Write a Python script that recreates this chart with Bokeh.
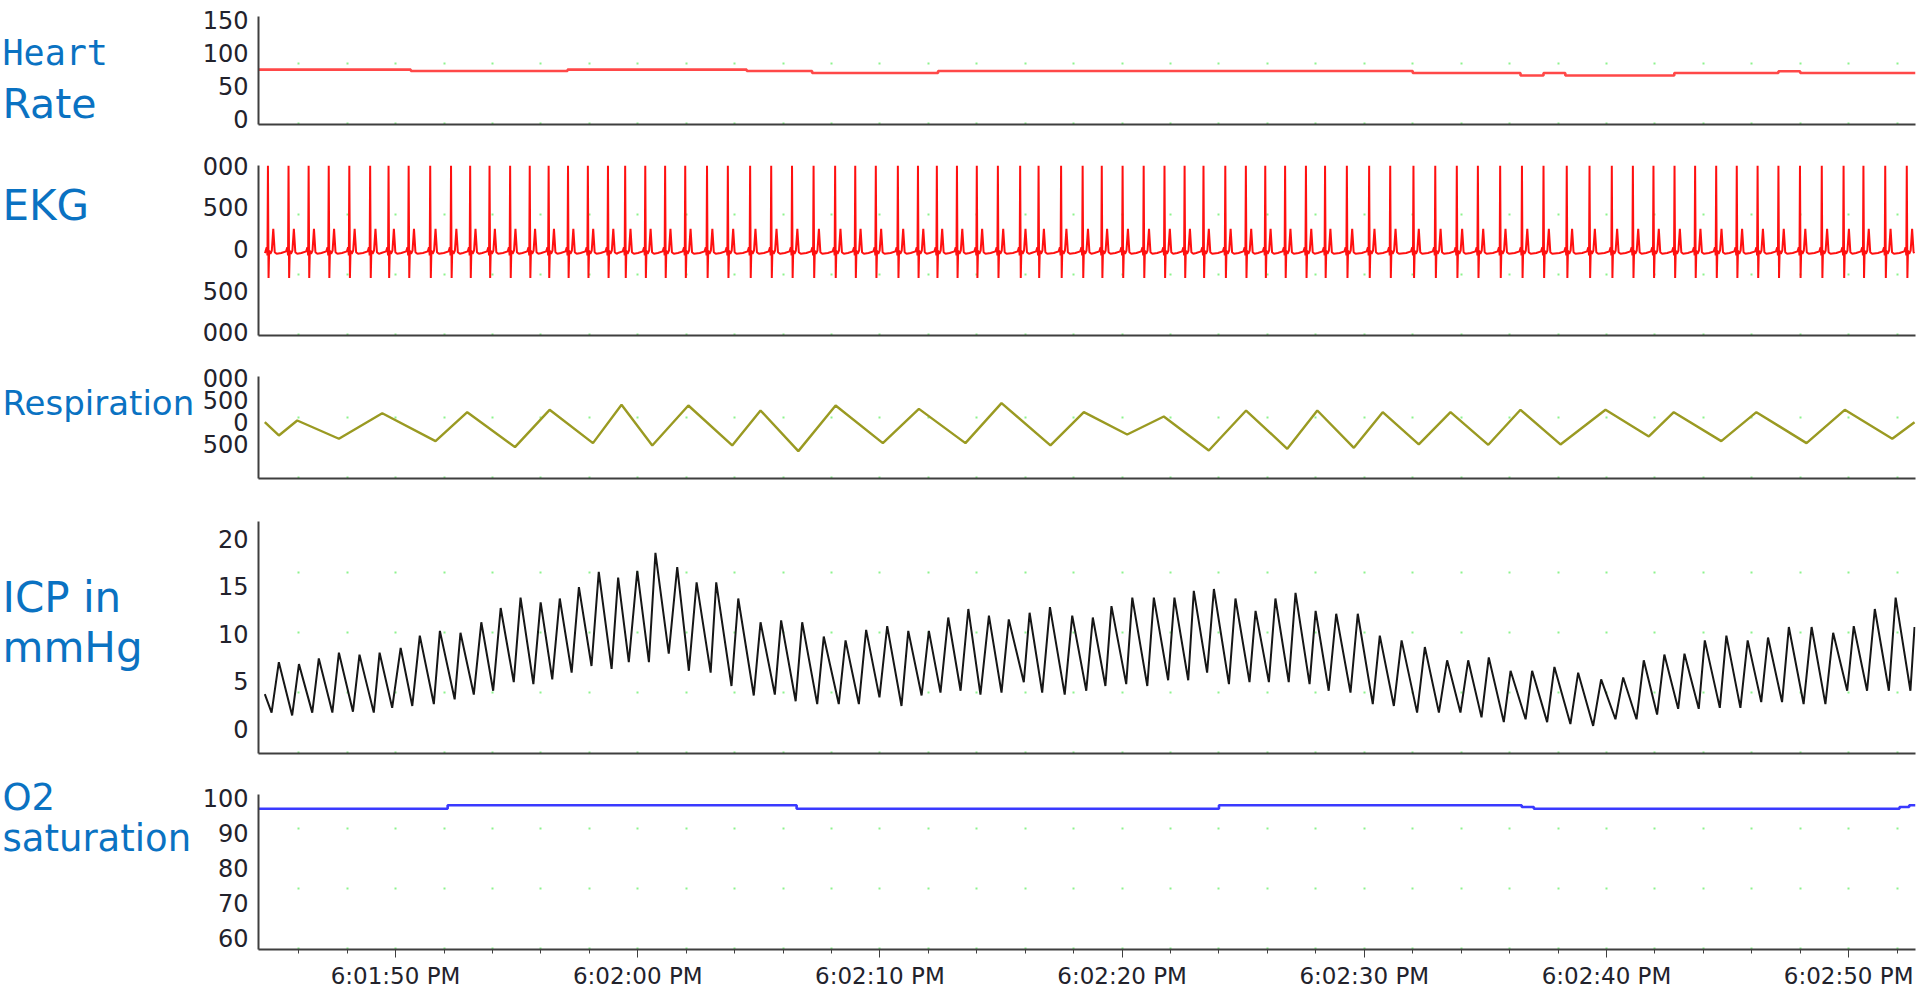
from bokeh.plotting import figure
from bokeh.layouts import column, row
from bokeh.models import FixedTicker, Range1d
from bokeh.core.properties import value
from bokeh.embed import file_html
from bokeh.resources import INLINE

# ---------------- data (time in seconds after 6:01:50 PM) ----------------
x_start, x_end = -5.66, 62.76
x_major = [0, 10, 20, 30, 40, 50, 60]
x_major_labels = ["6:01:50 PM", "6:02:00 PM", "6:02:10 PM", "6:02:20 PM",
                  "6:02:30 PM", "6:02:40 PM", "6:02:50 PM"]
x_minor = [-4, -2, 2, 4, 6, 8, 12, 14, 16, 18, 22, 24, 26, 28, 32, 34, 36, 38,
           42, 44, 46, 48, 52, 54, 56, 58, 62]

# panel titles
title_text = ["Heart", "Rate", "EKG", "Respiration", "ICP in", "mmHg", "O2", "saturation"]

# Heart rate (steps)
hr_t = [-5.66, 0.63, 7.1, 14.5, 17.2, 22.4, 42.0, 46.45, 47.4, 48.3, 52.8, 57.1, 58.0, 62.76]
hr_v = [75, 73, 75, 73, 70, 73, 70, 66, 70, 66, 70, 72.5, 70, 70]
hr_ticks = [0, 50, 100, 150]

# EKG: R-wave times lead the ICP troughs; beat shape
ekg_lead = 0.15
ekg_shape_dt = [-0.30, -0.10, -0.05, -0.02, 0.0, 0.025, 0.05, 0.10, 0.16, 0.22, 0.28, 0.36]
ekg_shape_v = [-50, -30, 20, -80, 1000, -350, -20, -60, -20, 240, -40, -60]
ekg_ticks = [1000, 500, 0, -500, -1000]
ekg_tick_text = ["000", "500", "0", "500", "000"]

# Respiration (turning points)
resp_t = [-5.40, -4.82, -4.06, -2.34, -0.55, 1.65, 2.96, 4.93, 6.36, 8.15, 9.33, 10.60,
          12.09, 13.90, 15.07, 16.63, 18.17, 20.12, 21.61, 23.53, 25.02, 27.04, 28.42,
          30.21, 31.72, 33.58, 35.12, 36.82, 38.06, 39.57, 40.76, 42.25, 43.56, 45.12,
          46.45, 48.10, 49.96, 51.75, 52.78, 54.74, 56.19, 58.26, 59.84, 61.80, 62.72]
resp_v = [7, -295, 45, -370, 211, -424, 234, -560, 288, -469, 401, -522, 386, -522, 272,
          -651, 386, -469, 310, -469, 439, -522, 234, -272, 136, -636, 272, -598, 272,
          -575, 234, -499, 234, -507, 288, -499, 288, -318, 234, -424, 234, -469, 288,
          -370, 7]
resp_ticks = [1000, 500, 0, -500]
resp_tick_text = ["000", "500", "0", "500"]

# ICP in mmHg (pulse peaks and troughs)
icp_start = (-5.40, 3.65)
icp_end = (62.72, 10.7)
icp_peak_t = [-4.82, -3.99, -3.17, -2.34, -1.49, -0.66, 0.21, 1.00, 1.83, 2.68, 3.54, 4.34,
              5.16, 5.99, 6.78, 7.57, 8.39, 9.19, 9.98, 10.73,
              11.63, 12.43, 13.24, 14.15, 15.07, 15.92, 16.79, 17.68, 18.58, 19.43, 20.30,
              21.17, 22.02, 22.82, 23.65, 24.50, 25.32, 26.18, 27.02, 27.94, 28.79,
              29.56, 30.42, 31.31, 32.16, 32.96, 33.79, 34.68, 35.51, 36.33, 37.16, 37.99,
              38.84, 39.73, 40.64, 41.54, 42.50, 43.42, 44.29, 45.14, 46.04,
              46.93, 47.85, 48.83, 49.78, 50.69, 51.54, 52.39, 53.22, 54.06, 54.95, 55.83,
              56.67, 57.53, 58.47, 59.36, 60.21, 61.08, 61.94]
icp_peak_v = [7.0, 6.8, 7.4, 8.0, 7.8, 8.0, 8.5, 9.8, 10.3, 10.1, 11.2, 12.7, 13.8, 13.3,
              13.7, 14.9, 16.5, 15.9, 16.6, 18.5,
              17.0, 15.4, 15.4, 13.7, 11.2, 11.4, 11.2, 9.7, 9.3, 10.4, 10.8, 10.3, 10.3,
              11.7, 12.6, 11.9, 11.5, 12.2, 12.8, 11.9, 11.7,
              12.9, 13.8, 13.8, 13.8, 14.5, 14.7, 13.7, 12.4, 13.7, 14.3, 12.4, 12.1, 12.1,
              9.8, 9.3, 8.6, 7.2, 7.2, 7.5, 6.1,
              6.1, 6.5, 5.9, 5.2, 5.4, 7.2, 7.8, 7.9, 9.3, 9.8, 9.3, 9.6, 10.7, 10.7, 10.1,
              10.8, 12.6, 13.8]
icp_trough_t = [-5.12, -4.27, -3.44, -2.61, -1.76, -0.90, -0.14, 0.69, 1.58, 2.44, 3.23,
                4.03, 4.88, 5.69, 6.47, 7.27, 8.09, 8.92, 9.63, 10.46, 11.28,
                12.11, 13.01, 13.87, 14.79, 15.66, 16.52, 17.41, 18.30, 19.13, 19.98, 20.89,
                21.72, 22.50, 23.33, 24.15, 25.02, 25.94, 26.70, 27.63, 28.52,
                29.31, 30.17, 31.04, 31.90, 32.73, 33.51, 34.41, 35.26, 36.06, 36.88, 37.74,
                38.53, 39.43, 40.35, 41.22, 42.18, 43.08, 43.97, 44.84, 45.76,
                46.66, 47.55, 48.51, 49.45, 50.37, 51.24, 52.09, 52.96, 53.81, 54.68, 55.53,
                56.39, 57.25, 58.14, 59.04, 59.94, 60.76, 61.66, 62.55]
icp_trough_v = [1.7, 1.4, 1.7, 1.7, 1.8, 1.7, 2.2, 2.4, 2.6, 3.1, 3.6, 4.0, 4.9, 4.7, 5.2,
                5.9, 6.6, 6.3, 7.0, 7.0, 7.9,
                6.1, 5.9, 4.5, 3.5, 3.6, 2.9, 2.6, 2.6, 2.6, 3.3, 2.4, 3.5, 3.8, 4.0, 3.6,
                3.8, 4.9, 3.8, 3.6, 4.0,
                4.5, 4.7, 4.5, 5.1, 5.1, 5.9, 4.7, 4.9, 4.9, 4.9, 4.7, 4.0, 3.8, 2.6, 2.4,
                1.7, 1.7, 1.7, 1.2, 0.7,
                1.0, 0.7, 0.5, 0.3, 1.0, 1.0, 1.5, 2.1, 2.1, 2.2, 2.2, 2.8, 2.8, 2.6, 2.6,
                4.0, 4.0, 4.0, 4.0]
icp_ticks = [0, 5, 10, 15, 20]

# O2 saturation (steps)
o2_t = [-5.66, 2.15, 16.56, 34.0, 46.5, 47.0, 62.1, 62.5, 62.76]
o2_v = [97, 98, 97, 98, 97.5, 97, 97.5, 98, 98]
o2_ticks = [60, 70, 80, 90, 100]

# ---------------- styling ----------------
BLUE = "#0a72c2"
TICK_FONT = "DejaVu Sans"
TICK_COLOR = "#22222c"
AXIS_COLOR = "#3f3f3f"
LEFT_W = 196
TOTAL_W = 1920
TOTAL_H = 991
PW = TOTAL_W - LEFT_W
x_range = Range1d(x_start, x_end)


def make_panel(height, top, bottom, y_range, yticks, ytext=None, last=False):
    p = figure(width=PW, height=height, x_range=x_range, y_range=Range1d(*y_range),
               output_backend="svg", toolbar_location=None,
               min_border_left=258 - LEFT_W, min_border_right=5,
               min_border_top=top, min_border_bottom=bottom,
               outline_line_color=None, background_fill_color="white",
               border_fill_color="white")
    ya = p.yaxis[0]
    ya.ticker = FixedTicker(ticks=yticks)
    if ytext is not None:
        ya.major_label_overrides = {v: t for v, t in zip(yticks, ytext)}
    ya.major_tick_line_color = None
    ya.minor_tick_line_color = None
    ya.major_label_standoff = 4
    ya.major_label_text_font = TICK_FONT
    ya.major_label_text_font_size = "24px"
    ya.major_label_text_color = TICK_COLOR
    ya.axis_line_color = AXIS_COLOR
    ya.axis_line_width = 2

    xa = p.xaxis[0]
    xa.axis_line_color = AXIS_COLOR
    xa.axis_line_width = 2
    if last:
        xa.ticker = FixedTicker(ticks=x_major, minor_ticks=x_minor)
        xa.major_label_overrides = {v: t for v, t in zip(x_major, x_major_labels)}
        xa.major_tick_out = 8
        xa.major_tick_in = 0
        xa.minor_tick_out = 4
        xa.minor_tick_in = 0
        xa.major_tick_line_color = AXIS_COLOR
        xa.minor_tick_line_color = AXIS_COLOR
        xa.major_label_standoff = 5
        xa.major_label_text_font = TICK_FONT
        xa.major_label_text_font_size = "23px"
        xa.major_label_text_color = TICK_COLOR
    else:
        xa.ticker = FixedTicker(ticks=[])
    p.ygrid.visible = False
    p.xgrid.ticker = FixedTicker(ticks=sorted(x_major + x_minor))
    p.xgrid.grid_line_color = "#70f070"
    p.xgrid.grid_line_width = 2
    p.xgrid.grid_line_dash = "2 58"
    p.xgrid.grid_line_alpha = 0.8
    return p


# Heart rate
p1 = make_panel(145, 16, 21, (-8.4, 155.8), hr_ticks)
p1.step(hr_t, hr_v, mode="after", line_color="#ff4848", line_width=2.6)

# EKG
ekg_t = [icp_start[0]]
ekg_v = [-50]
for tr in icp_trough_t:
    r = tr - ekg_lead
    for dt, v in zip(ekg_shape_dt, ekg_shape_v):
        if icp_start[0] < r + dt < icp_end[0]:
            ekg_t.append(r + dt)
            ekg_v.append(v)
ekg_t.append(icp_end[0])
ekg_v.append(-50)
p2 = make_panel(210, 20, 20, (-1040, 1000), ekg_ticks, ekg_tick_text)
p2.line(ekg_t, ekg_v, line_color="#ff1010", line_width=2.0)

# Respiration
p3 = make_panel(145, 21, 22, (-1273, 1045), resp_ticks, resp_tick_text)
p3.line(resp_t, resp_v, line_color="#9a9a22", line_width=2.4)

# ICP
pts = [icp_start] + list(zip(icp_peak_t, icp_peak_v)) + list(zip(icp_trough_t, icp_trough_v)) + [icp_end]
pts.sort()
p4 = make_panel(275, 21, 22, (-2.6, 21.8), icp_ticks)
p4.line([a for a, b in pts], [b for a, b in pts], line_color="#161616", line_width=2.0)

# O2 saturation
p5 = make_panel(216, 19, 41, (56.6, 101.1), o2_ticks, last=True)
p5.step(o2_t, o2_v, mode="after", line_color="#3a3aff", line_width=2.6)

# left column with the panel titles (pixel coordinates, y downwards)
lab = figure(width=LEFT_W, height=TOTAL_H, x_range=Range1d(0, LEFT_W),
             y_range=Range1d(TOTAL_H, 0), output_backend="svg", toolbar_location=None,
             min_border=0, outline_line_color=None, border_fill_color="white",
             background_fill_color="white")
lab.axis.visible = False
lab.grid.visible = False
title_x = [2, 2, 2, 2, 2, 2, 2, 2]
title_y = [52, 103, 205, 402, 597, 647, 797, 838]
title_font = ["DejaVu Sans Mono", "DejaVu Sans", "DejaVu Sans", "DejaVu Sans",
              "DejaVu Sans", "DejaVu Sans", "DejaVu Sans", "DejaVu Sans"]
title_size = ["35px", "41px", "42px", "34px", "42px", "42px", "37px", "37px"]
for tx, ty, tt, tf, ts in zip(title_x, title_y, title_text, title_font, title_size):
    lab.text(x=[tx], y=[ty], text=[tt], text_font=value(tf), text_font_size=value(ts),
             text_color=BLUE, text_baseline="alphabetic", text_align="left")

layout = row(lab, column(p1, p2, p3, p4, p5, spacing=0), spacing=0)
open("out.html", "w").write(file_html(layout, INLINE))
